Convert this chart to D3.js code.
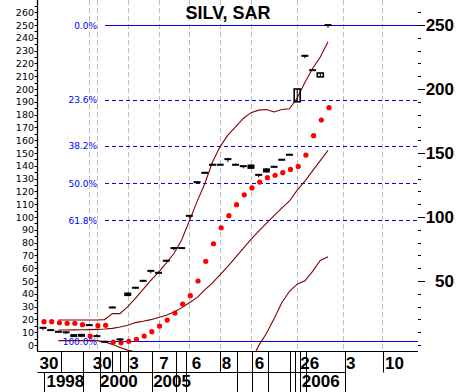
<!DOCTYPE html>
<html><head><meta charset="utf-8">
<script src="https://cdn.jsdelivr.net/npm/d3@7/dist/d3.min.js"></script>
<style>body{margin:0;background:#fff}svg{display:block}</style>
</head><body><svg id="c" width="456" height="392"></svg>
<script>
// ---- data ----
const title = "SILV, SAR";
const candleOpen  = [14.2,12.4,11.1,10.7,8.5,8.7,16.3,7.7,3.3,30.1,5.2,41.0,45.5,50.9,58.7,57.2,66.6,76.5,76.5,101.7,128.0,135.3,141.6,141.6,146.0,141.6,140.5,141.0,133.7,138.0,140.0,145.5,149.4,190.0,226.7,215.5,209.5,250.7];
const candleClose = [12.8,11.0,9.7,9.3,6.2,6.4,14.9,6.3,1.9,28.7,3.8,38.2,44.1,49.5,57.3,55.8,65.2,75.1,75.1,100.3,126.6,133.9,140.2,140.2,144.6,140.2,139.1,137.6,132.3,134.8,138.6,144.1,148.0,200.0,225.3,214.1,212.5,249.3];
const candleHigh  = [14.2,12.4,11.1,10.7,8.5,8.7,16.3,8.5,3.3,30.1,5.2,41.0,45.5,50.9,58.7,57.2,66.6,76.5,76.5,101.7,128.0,135.3,141.6,141.6,146.0,141.6,140.5,141.0,133.7,138.0,140.0,145.5,149.4,200.0,226.7,215.5,212.5,250.7];
const candleLow   = [11.5,11.0,9.7,8.5,6.2,6.4,14.9,6.3,1.9,28.7,2.5,38.2,44.1,49.5,56.0,55.8,65.2,74.0,75.1,99.0,126.6,133.9,140.2,140.2,143.0,140.2,138.0,137.6,131.0,134.8,138.6,144.1,148.0,190.0,224.0,214.1,209.5,248.0];
const sar = [18.2,18.2,17.4,16.9,16.9,15.9,7.0,15.1,15.4,2.3,1.8,2.9,4.5,7.0,10.4,14.8,19.5,25.0,32.0,38.5,50.0,65.4,79.1,91.6,101.0,109.6,117.3,122.7,127.3,130.7,132.6,134.6,137.2,139.5,148.4,163.5,175.8,185.4];
const upperBand  = [null,null,19.5,19.5,19.5,19.5,19.5,19.5,19.8,24.5,24.5,30,36.5,43.5,50.5,57,64,71.5,82,97,112,126,143,155,164,170.5,177,181.5,183.5,184,182,184,184.5,193,205,216,225,237];
const middleBand = [null,null,11.7,11.7,11.8,11.9,12,12.2,12.5,13,14,15.5,17.5,18.5,19.8,21.5,23.3,25.8,29,33,37,43,48.5,55,61.5,68.5,75.5,82.5,89,95,101,107,112.5,121,128,136,144,152];
const lowerBand  = [null,null,3.4,3.4,3.4,3.4,3.4,3.4,2.5,0.5,-2,-4,-5.5,-8,-10,-12,-14,-16,-18,-20,-22,-24,-25,-25,-24,-22,-18,-13,-0.5,9,20.5,33,42,47.5,50.2,57.5,66,69];
const fibTop = 250, fibBottom = 3.1;
const fibLevels = [0.0, 23.6, 38.2, 50.0, 61.8, 100.0];
const fibLabels = ["0.0%","23.6%","38.2%","50.0%","61.8%","100.0%"];
const leftTicks = d3.range(0, 261, 10);
const rightTicks = d3.range(0, 261, 10);
const rightLabels = [50,100,150,200,250];
const gridIdx = [6,7,11,15,19,23,27,33,39,44];
const dateLabels = ["30","30","3","7","6","8","6","26","3","10"];
const dateLabelIdx = [-0.45,6.45,11.2,15.1,19.3,23.2,27.5,33.4,39.35,44.4];
const yearLabels = ["1998","2000","2005","2006"];
const yearLabelIdx = [0.45,7.4,14.3,33.6];
const sepFull = [5.2,7.4,14.1,17.3,18.6,25.2,27.1,29.2,32.1,32.7,33.4,34.2,39.2];
const sepTop = [2.4,9,10,11,23,44.2];
const sepBottom = [0.1];

// ---- drawing ----
const W = 456, H = 392;
const svg = d3.select('#c');
svg.append('rect').attr('width', W).attr('height', H).attr('fill', '#fff');
const x = d3.scaleLinear().domain([0, 37]).range([43, 328]);
const y = d3.scaleLinear().domain([0, 250]).range([345, 25]);
const plotL = 37.5, plotR = 418, plotB = 351.5;
const font = "'Liberation Sans', Arial, sans-serif";

svg.append('clipPath').attr('id','pc').append('rect')
  .attr('x', plotL).attr('y', 0).attr('width', plotR - plotL).attr('height', plotB);

// gridlines
svg.append('g').selectAll('line').data(gridIdx).join('line')
  .attr('x1', d => Math.round(x(d)) + 0.5).attr('x2', d => Math.round(x(d)) + 0.5)
  .attr('y1', 0).attr('y2', plotB)
  .attr('stroke', '#bdbdbd').attr('stroke-width', 1).attr('stroke-dasharray', '5,3');

// fib lines
const fibG = svg.append('g');
fibLevels.forEach((p, k) => {
  const v = fibTop - (fibTop - fibBottom) * p / 100;
  const yy = Math.round(y(v)) + 0.5;
  const solid = (p === 0 || p === 100);
  fibG.append('line').attr('x1', p === 100 ? 99 : 105).attr('x2', plotR)
    .attr('y1', yy).attr('y2', yy)
    .attr('stroke', '#0000ff').attr('stroke-width', 1)
    .attr('stroke-dasharray', solid ? null : '4,3');
});

// bands
const plotG = svg.append('g').attr('clip-path', 'url(#pc)');
const line = d3.line().defined(d => d != null).x((d, i) => x(i)).y(d => y(d));
[upperBand, middleBand, lowerBand].forEach(b => {
  plotG.append('path').attr('d', line(b)).attr('fill', 'none')
    .attr('stroke', '#800000').attr('stroke-width', 1.1);
});

// SAR
plotG.selectAll('circle.sar').data(sar).join('circle')
  .attr('cx', (d, i) => x(i) + 1).attr('cy', d => y(d)).attr('r', 2.6)
  .attr('fill', '#ff0000');

// candles
candleOpen.forEach((o, i) => {
  const c = candleClose[i];
  const cx = x(i);
  const hi = candleHigh[i], lo = candleLow[i];
  plotG.append('line').attr('x1', cx).attr('x2', cx)
    .attr('y1', y(hi)).attr('y2', y(lo)).attr('stroke', '#000').attr('stroke-width', 1);
  const top = y(Math.max(o, c)), bot = y(Math.min(o, c));
  const h = Math.max(2, bot - top);
  if (c > o) {
    plotG.append('rect').attr('x', cx - 3).attr('y', top).attr('width', 6).attr('height', h)
      .attr('fill', 'none').attr('stroke', '#000').attr('stroke-width', 1.6);
  } else {
    plotG.append('rect').attr('x', cx - 3.5).attr('y', top).attr('width', 7).attr('height', h)
      .attr('fill', '#000');
  }
});

// fib labels
fibLevels.forEach((p, k) => {
  const v = fibTop - (fibTop - fibBottom) * p / 100;
  svg.append('text').attr('x', 97).attr('y', y(v) + 3.5)
    .attr('text-anchor', 'end').attr('font-family', "'DejaVu Sans', sans-serif")
    .attr('font-size', 9).attr('fill', '#0000ff').text(fibLabels[k]);
});

// title
svg.append('text').attr('x', 228).attr('y', 19).attr('text-anchor', 'middle')
  .attr('font-family', font).attr('font-weight', 'bold').attr('font-size', 18)
  .attr('fill', '#000').text(title);

// left axis
const lg = svg.append('g');
lg.append('line').attr('x1', plotL).attr('x2', plotL).attr('y1', 0).attr('y2', plotB)
  .attr('stroke', '#000').attr('stroke-width', 1.3);
lg.selectAll('line.t').data(d3.range(0, 266, 5)).join('line')
  .attr('x1', plotL - 3).attr('x2', plotL)
  .attr('y1', d => Math.round(y(d)) + 0.5).attr('y2', d => Math.round(y(d)) + 0.5)
  .attr('stroke', '#000');
lg.selectAll('text').data(leftTicks).join('text')
  .attr('x', 34).attr('y', d => y(d) + 3.5).attr('text-anchor', 'end')
  .attr('font-family', "'DejaVu Sans', sans-serif").attr('font-size', 9.5).attr('fill', '#000')
  .text(d => d);

// right axis
const rg = svg.append('g');
rg.selectAll('line').data(rightTicks).join('line')
  .attr('x1', plotR).attr('x2', d => rightLabels.includes(d) ? plotR + 7 : plotR + 3)
  .attr('y1', d => Math.round(y(d)) + 0.5).attr('y2', d => Math.round(y(d)) + 0.5)
  .attr('stroke', '#000').attr('stroke-width', 1);
rg.selectAll('text').data(rightLabels).join('text')
  .attr('x', 454).attr('y', d => y(d) + 6).attr('text-anchor', 'end')
  .attr('font-family', font).attr('font-weight', 'bold').attr('font-size', 17).attr('fill', '#000')
  .text(d => d);

// bottom date axis
const bg = svg.append('g');
bg.append('line').attr('x1', plotL).attr('x2', plotR).attr('y1', plotB).attr('y2', plotB)
  .attr('stroke', '#000').attr('stroke-width', 1);
bg.append('line').attr('x1', plotL).attr('x2', x(39.2)).attr('y1', 372.5).attr('y2', 372.5)
  .attr('stroke', '#000').attr('stroke-width', 1);
const sep = (arr, y1, y2) => bg.append('g').selectAll('line').data(arr).join('line')
  .attr('x1', d => Math.round(x(d)) + 0.5).attr('x2', d => Math.round(x(d)) + 0.5)
  .attr('y1', y1).attr('y2', y2).attr('stroke', '#000').attr('stroke-width', 1);
sep(sepFull, plotB, 392);
sep(sepTop, plotB, 372.5);
sep(sepBottom, 372.5, 392);
bg.append('g').selectAll('text').data(dateLabels).join('text')
  .attr('x', (d, i) => x(dateLabelIdx[i])).attr('y', 368.5)
  .attr('font-family', font).attr('font-weight', 'bold').attr('font-size', 17).attr('fill', '#000')
  .text(d => d);
bg.append('g').selectAll('text').data(yearLabels).join('text')
  .attr('x', (d, i) => x(yearLabelIdx[i])).attr('y', 387)
  .attr('font-family', font).attr('font-weight', 'bold').attr('font-size', 17).attr('fill', '#000')
  .text(d => d);
</script></body></html>
